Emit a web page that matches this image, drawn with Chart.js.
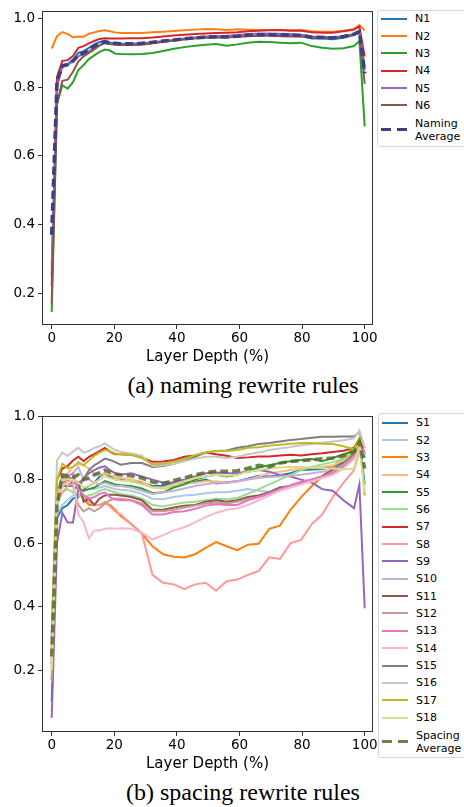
<!DOCTYPE html>
<html>
<head>
<meta charset="utf-8">
<script src="https://cdn.jsdelivr.net/npm/chart.js@4.4.1/dist/chart.umd.min.js"></script>
<style>
  html, body { margin: 0; padding: 0; background: #fff; }
  body { width: 464px; height: 807px; position: relative; overflow: hidden; font-family: "DejaVu Sans", sans-serif; }
  canvas { position: absolute; left: 0; }
  .legend { position: absolute; width: 100px; border: 1px solid #d6d6d6; border-radius: 3px; background: #fff;
            display: flex; flex-direction: column; gap: 5.35px; font-size: 11px; box-sizing: border-box; }
  .row { display: flex; align-items: center; height: 12px; }
  .row.two { height: 26px; }
  .swatch { width: 26px; height: 2px; margin-left: 3px; margin-right: 8px; flex: none; }
  .swatch.dash { height: 3px; }
  .label { white-space: pre-line; line-height: 13px; color: #000; }
  .caption { position: absolute; left: 0; width: 486px; text-align: center; font-family: "Liberation Serif", serif;
             font-size: 24px; line-height: 24px; color: #000; }
</style>
</head>
<body>
<canvas id="naming" width="464" height="370" style="top:0"></canvas>
<div class="legend" id="namingLegend" style="left:377px; top:10px; height:137px; padding-top:1.7px"></div>
<div class="caption" style="top:373px">(a) naming rewrite rules</div>

<canvas id="spacing" width="464" height="372" style="top:405px"></canvas>
<div class="legend" id="spacingLegend" style="left:378px; top:413px; height:345px; padding-top:2.7px"></div>
<div class="caption" style="top:780px">(b) spacing rewrite rules</div>

<script>
// layer depth in percent, shared by every series
const LAYER_DEPTH = [0, 1.7, 3.4, 5.1, 6.8, 8.5, 10.2, 11.9, 13.6, 15.3, 17, 18.6, 20.3, 22, 25.4, 28.8, 32.2, 35.6, 39,
  42.4, 45.8, 49.2, 52.5, 55.9, 59.3, 62.7, 66.1, 69.5, 72.9, 76.3, 79.7, 83.1, 86.4, 89.8, 93.2, 96.6, 98.3, 100];

const X_TICKS = [0, 20, 40, 60, 80, 100];
const Y_TICKS = [0.2, 0.4, 0.6, 0.8, 1.0];

// (a) naming rewrite rules
const N1 = [0.25, 0.82, 0.865, 0.868, 0.88, 0.9, 0.905, 0.915, 0.925, 0.932, 0.935, 0.93, 0.928, 0.927, 0.927, 0.928, 0.931, 0.934, 0.937, 0.94, 0.943, 0.946, 0.946, 0.946, 0.948, 0.95, 0.951, 0.952, 0.952, 0.951, 0.949, 0.942, 0.942, 0.94, 0.944, 0.952, 0.96, 0.85];
const N2 = [0.913, 0.949, 0.961, 0.955, 0.946, 0.948, 0.947, 0.956, 0.96, 0.964, 0.966, 0.963, 0.96, 0.958, 0.958, 0.958, 0.96, 0.962, 0.964, 0.966, 0.968, 0.97, 0.969, 0.967, 0.969, 0.968, 0.967, 0.967, 0.967, 0.966, 0.967, 0.963, 0.962, 0.962, 0.965, 0.97, 0.981, 0.965];
const N3 = [0.145, 0.752, 0.806, 0.796, 0.815, 0.85, 0.865, 0.882, 0.893, 0.903, 0.91, 0.907, 0.898, 0.897, 0.896, 0.897, 0.9, 0.906, 0.912, 0.917, 0.921, 0.924, 0.926, 0.921, 0.925, 0.93, 0.933, 0.932, 0.93, 0.928, 0.93, 0.92, 0.915, 0.912, 0.914, 0.92, 0.935, 0.686];
const N4 = [0.22, 0.83, 0.877, 0.879, 0.891, 0.915, 0.92, 0.928, 0.935, 0.941, 0.943, 0.942, 0.942, 0.942, 0.943, 0.943, 0.945, 0.948, 0.951, 0.953, 0.955, 0.957, 0.958, 0.959, 0.96, 0.963, 0.965, 0.966, 0.967, 0.965, 0.965, 0.96, 0.959, 0.959, 0.963, 0.968, 0.977, 0.89];
const N5 = [0.28, 0.8, 0.86, 0.865, 0.875, 0.89, 0.897, 0.905, 0.915, 0.922, 0.928, 0.926, 0.925, 0.924, 0.924, 0.926, 0.93, 0.934, 0.938, 0.942, 0.945, 0.948, 0.949, 0.95, 0.952, 0.955, 0.957, 0.957, 0.956, 0.955, 0.953, 0.948, 0.947, 0.946, 0.949, 0.955, 0.965, 0.86];
const N6 = [0.17, 0.75, 0.819, 0.822, 0.845, 0.875, 0.89, 0.9, 0.91, 0.922, 0.93, 0.926, 0.924, 0.923, 0.923, 0.924, 0.928, 0.932, 0.936, 0.94, 0.943, 0.944, 0.945, 0.945, 0.947, 0.949, 0.95, 0.95, 0.949, 0.948, 0.948, 0.945, 0.945, 0.944, 0.947, 0.953, 0.96, 0.81];
const NAMING_AVG = [0.37, 0.82, 0.862, 0.866, 0.877, 0.893, 0.9, 0.91, 0.92, 0.928, 0.933, 0.929, 0.928, 0.927, 0.927, 0.928, 0.931, 0.935, 0.938, 0.941, 0.944, 0.946, 0.947, 0.947, 0.949, 0.952, 0.953, 0.953, 0.953, 0.952, 0.951, 0.946, 0.945, 0.944, 0.948, 0.955, 0.962, 0.84];

const NAMING_LABELS = ['N1', 'N2', 'N3', 'N4', 'N5', 'N6', 'Naming\nAverage'];
const NAMING_COLORS = ['#1f77b4', '#ff7f0e', '#2ca02c', '#d62728', '#9467bd', '#8c564b', '#3b3f85'];

// (b) spacing rewrite rules
const S1 = [0.10, 0.68, 0.71, 0.72, 0.74, 0.745, 0.77, 0.78, 0.79, 0.81, 0.82, 0.81, 0.80, 0.80, 0.795, 0.79, 0.78, 0.78, 0.79, 0.79, 0.793, 0.80, 0.788, 0.792, 0.795, 0.803, 0.812, 0.81, 0.814, 0.82, 0.83, 0.832, 0.833, 0.84, 0.855, 0.88, 0.925, 0.785];
const S2 = [0.20, 0.69, 0.72, 0.735, 0.75, 0.75, 0.765, 0.77, 0.77, 0.775, 0.78, 0.775, 0.77, 0.768, 0.765, 0.755, 0.74, 0.738, 0.745, 0.75, 0.752, 0.757, 0.76, 0.76, 0.765, 0.77, 0.765, 0.762, 0.775, 0.78, 0.79, 0.80, 0.81, 0.83, 0.845, 0.87, 0.91, 0.87];
const S3 = [0.22, 0.76, 0.79, 0.80, 0.80, 0.78, 0.74, 0.72, 0.72, 0.72, 0.725, 0.72, 0.705, 0.685, 0.66, 0.63, 0.59, 0.565, 0.557, 0.555, 0.565, 0.585, 0.603, 0.59, 0.578, 0.595, 0.598, 0.645, 0.655, 0.705, 0.745, 0.78, 0.81, 0.84, 0.87, 0.90, 0.93, 0.88];
const S4 = [0.25, 0.75, 0.80, 0.82, 0.84, 0.85, 0.845, 0.835, 0.82, 0.815, 0.82, 0.815, 0.81, 0.805, 0.80, 0.793, 0.775, 0.772, 0.78, 0.787, 0.79, 0.795, 0.795, 0.79, 0.793, 0.80, 0.81, 0.82, 0.825, 0.83, 0.835, 0.838, 0.84, 0.845, 0.86, 0.885, 0.92, 0.90];
const S5 = [0.22, 0.74, 0.78, 0.78, 0.78, 0.77, 0.765, 0.77, 0.775, 0.785, 0.795, 0.79, 0.785, 0.782, 0.78, 0.772, 0.757, 0.76, 0.775, 0.785, 0.80, 0.81, 0.815, 0.81, 0.815, 0.828, 0.838, 0.845, 0.852, 0.858, 0.862, 0.865, 0.858, 0.868, 0.88, 0.89, 0.92, 0.87];
const S6 = [0.16, 0.72, 0.76, 0.77, 0.76, 0.75, 0.745, 0.75, 0.755, 0.765, 0.77, 0.765, 0.76, 0.755, 0.75, 0.74, 0.72, 0.715, 0.722, 0.728, 0.73, 0.735, 0.74, 0.738, 0.742, 0.755, 0.77, 0.785, 0.80, 0.815, 0.83, 0.84, 0.848, 0.855, 0.865, 0.885, 0.92, 0.88];
const S7 = [0.27, 0.80, 0.835, 0.843, 0.86, 0.872, 0.858, 0.872, 0.88, 0.89, 0.90, 0.888, 0.88, 0.88, 0.878, 0.87, 0.856, 0.857, 0.862, 0.872, 0.876, 0.885, 0.88, 0.875, 0.868, 0.87, 0.873, 0.873, 0.876, 0.878, 0.876, 0.88, 0.883, 0.887, 0.891, 0.90, 0.925, 0.88];
const S8 = [0.17, 0.74, 0.76, 0.78, 0.79, 0.78, 0.75, 0.73, 0.72, 0.72, 0.73, 0.715, 0.70, 0.69, 0.66, 0.63, 0.50, 0.475, 0.47, 0.455, 0.47, 0.475, 0.45, 0.48, 0.485, 0.50, 0.512, 0.555, 0.55, 0.60, 0.61, 0.66, 0.69, 0.745, 0.79, 0.83, 0.89, 0.88];
const S9 = [0.05, 0.60, 0.695, 0.665, 0.665, 0.77, 0.805, 0.82, 0.83, 0.838, 0.842, 0.83, 0.82, 0.815, 0.82, 0.81, 0.80, 0.79, 0.792, 0.80, 0.81, 0.82, 0.822, 0.82, 0.82, 0.825, 0.83, 0.825, 0.815, 0.81, 0.80, 0.79, 0.77, 0.765, 0.735, 0.71, 0.785, 0.395];
const S10 = [0.20, 0.72, 0.80, 0.81, 0.82, 0.84, 0.80, 0.80, 0.79, 0.785, 0.79, 0.785, 0.78, 0.78, 0.775, 0.765, 0.755, 0.76, 0.765, 0.772, 0.78, 0.785, 0.79, 0.79, 0.795, 0.80, 0.805, 0.808, 0.81, 0.812, 0.815, 0.82, 0.825, 0.83, 0.84, 0.87, 0.90, 0.89];
const S11 = [0.25, 0.75, 0.81, 0.80, 0.79, 0.79, 0.73, 0.74, 0.72, 0.74, 0.75, 0.752, 0.752, 0.75, 0.745, 0.735, 0.705, 0.705, 0.712, 0.718, 0.72, 0.73, 0.735, 0.73, 0.735, 0.745, 0.75, 0.76, 0.775, 0.78, 0.79, 0.80, 0.81, 0.83, 0.85, 0.88, 0.905, 0.88];
const S12 = [0.17, 0.73, 0.79, 0.79, 0.78, 0.72, 0.70, 0.71, 0.70, 0.71, 0.725, 0.735, 0.74, 0.74, 0.735, 0.725, 0.70, 0.70, 0.705, 0.712, 0.718, 0.725, 0.728, 0.725, 0.73, 0.74, 0.745, 0.755, 0.77, 0.778, 0.788, 0.798, 0.808, 0.825, 0.848, 0.875, 0.90, 0.88];
const S13 = [0.22, 0.74, 0.80, 0.81, 0.82, 0.77, 0.75, 0.74, 0.745, 0.755, 0.76, 0.745, 0.737, 0.735, 0.735, 0.72, 0.69, 0.69, 0.698, 0.70, 0.708, 0.718, 0.722, 0.72, 0.72, 0.735, 0.745, 0.757, 0.77, 0.782, 0.793, 0.80, 0.808, 0.82, 0.84, 0.87, 0.90, 0.89];
const S14 = [0.21, 0.74, 0.78, 0.79, 0.80, 0.69, 0.665, 0.615, 0.64, 0.64, 0.645, 0.647, 0.645, 0.647, 0.645, 0.633, 0.612, 0.625, 0.64, 0.65, 0.665, 0.682, 0.695, 0.705, 0.71, 0.72, 0.735, 0.75, 0.765, 0.775, 0.785, 0.795, 0.805, 0.815, 0.835, 0.865, 0.89, 0.88];
const S15 = [0.30, 0.75, 0.80, 0.81, 0.80, 0.79, 0.80, 0.83, 0.845, 0.855, 0.866, 0.862, 0.855, 0.847, 0.852, 0.852, 0.84, 0.843, 0.85, 0.86, 0.872, 0.885, 0.89, 0.892, 0.90, 0.905, 0.912, 0.915, 0.92, 0.925, 0.928, 0.932, 0.935, 0.935, 0.936, 0.936, 0.95, 0.90];
const S16 = [0.32, 0.86, 0.885, 0.875, 0.888, 0.90, 0.885, 0.89, 0.90, 0.905, 0.915, 0.903, 0.893, 0.888, 0.882, 0.875, 0.843, 0.845, 0.85, 0.858, 0.866, 0.872, 0.872, 0.868, 0.872, 0.88, 0.885, 0.893, 0.898, 0.903, 0.908, 0.912, 0.916, 0.92, 0.924, 0.93, 0.955, 0.90];
const S17 = [0.30, 0.80, 0.85, 0.835, 0.84, 0.855, 0.845, 0.86, 0.875, 0.885, 0.893, 0.89, 0.882, 0.88, 0.878, 0.868, 0.848, 0.85, 0.857, 0.865, 0.877, 0.885, 0.89, 0.89, 0.893, 0.90, 0.902, 0.907, 0.91, 0.913, 0.915, 0.915, 0.913, 0.912, 0.905, 0.895, 0.93, 0.75];
const S18 = [0.20, 0.75, 0.80, 0.80, 0.80, 0.79, 0.775, 0.78, 0.79, 0.80, 0.81, 0.805, 0.80, 0.797, 0.795, 0.785, 0.775, 0.775, 0.785, 0.795, 0.805, 0.81, 0.815, 0.812, 0.815, 0.825, 0.83, 0.835, 0.838, 0.84, 0.84, 0.838, 0.836, 0.835, 0.832, 0.835, 0.91, 0.76];
const SPACING_AVG = [0.243, 0.72, 0.815, 0.812, 0.808, 0.815, 0.80, 0.805, 0.815, 0.822, 0.83, 0.823, 0.818, 0.815, 0.812, 0.805, 0.792, 0.788, 0.797, 0.806, 0.815, 0.822, 0.826, 0.826, 0.828, 0.836, 0.845, 0.84, 0.852, 0.857, 0.86, 0.862, 0.866, 0.868, 0.875, 0.888, 0.918, 0.835];

const SPACING_LABELS = ['S1', 'S2', 'S3', 'S4', 'S5', 'S6', 'S7', 'S8', 'S9', 'S10', 'S11', 'S12', 'S13', 'S14', 'S15', 'S16', 'S17', 'S18', 'Spacing\nAverage'];
const SPACING_COLORS = ['#1f77b4', '#aec7e8', '#ff7f0e', '#ffbb78', '#2ca02c', '#98df8a', '#d62728', '#ff9896', '#9467bd',
  '#c5b0d5', '#8c564b', '#c49c94', '#e377c2', '#f7b6d2', '#7f7f7f', '#c7c7c7', '#bcbd22', '#dbdb8d', 'rgba(85,107,47,0.85)'];

Chart.defaults.font.family = '"DejaVu Sans", sans-serif';
Chart.defaults.font.size = 13.5;
Chart.defaults.color = '#000';

const frame = {
  id: 'frame',
  afterDraw(chart) {
    const { ctx, chartArea: a } = chart;
    ctx.save();
    ctx.strokeStyle = '#333';
    ctx.lineWidth = 1;
    ctx.strokeRect(Math.round(a.left) + 0.5, Math.round(a.top) + 0.5, Math.round(a.right - a.left) - 1, Math.round(a.bottom - a.top) - 1);
    ctx.restore();
  }
};

function makeChart(id, legendId, series, labels, colors, yMin, yMax, padTop) {
  const last = series.length - 1;
  const datasets = series.map((vals, i) => ({
    label: labels[i],
    data: vals.map((v, j) => ({ x: LAYER_DEPTH[j], y: v })),
    borderColor: colors[i],
    borderWidth: i === last ? 3.5 : 2,
    borderDash: i === last ? [8, 4] : [],
    pointRadius: 0,
    tension: 0,
    fill: false,
    order: series.length - i
  }));

  const chart = new Chart(document.getElementById(id), {
    type: 'line',
    data: { datasets },
    options: {
      responsive: false,
      animation: false,
      devicePixelRatio: 1,
      layout: { padding: { top: padTop, right: 91, left: 0, bottom: 0 } },
      plugins: { legend: { display: false }, tooltip: { enabled: false } },
      scales: {
        x: {
          type: 'linear', min: -3.1, max: 102.65,
          afterBuildTicks: s => { s.ticks = X_TICKS.map(v => ({ value: v })); },
          afterFit: s => { s.height = 45; },
          ticks: { padding: 1, callback: v => String(v) },
          grid: { drawOnChartArea: false, drawTicks: true, tickLength: 4, color: '#333' },
          border: { display: false },
          title: { display: true, text: 'Layer Depth (%)', font: { size: 15 }, padding: { top: 0, bottom: 4 } }
        },
        y: {
          min: yMin, max: yMax,
          afterBuildTicks: s => { s.ticks = Y_TICKS.map(v => ({ value: v })); },
          afterFit: s => { s.width = 42; },
          ticks: { padding: 3, callback: v => v.toFixed(1) },
          grid: { drawOnChartArea: false, drawTicks: true, tickLength: 4, color: '#333' },
          border: { display: false }
        }
      }
    },
    plugins: [frame]
  });

  // legend box in the matplotlib style, built from the chart's datasets
  const box = document.getElementById(legendId);
  chart.data.datasets.forEach((ds, i) => {
    const row = document.createElement('div');
    row.className = 'row' + (ds.label.includes('\n') ? ' two' : '');
    const sw = document.createElement('div');
    sw.className = 'swatch' + (i === last ? ' dash' : '');
    sw.style.background = i === last
      ? `linear-gradient(to right, ${ds.borderColor} 0 10px, transparent 10px 16px, ${ds.borderColor} 16px 26px)`
      : ds.borderColor;
    const lab = document.createElement('div');
    lab.className = 'label';
    lab.textContent = ds.label;
    row.appendChild(sw);
    row.appendChild(lab);
    box.appendChild(row);
  });
  return chart;
}

makeChart('naming', 'namingLegend', [N1, N2, N3, N4, N5, N6, NAMING_AVG],
  NAMING_LABELS, NAMING_COLORS, 0.107, 1.022, 4);
makeChart('spacing', 'spacingLegend',
  [S1, S2, S3, S4, S5, S6, S7, S8, S9, S10, S11, S12, S13, S14, S15, S16, S17, S18, SPACING_AVG],
  SPACING_LABELS, SPACING_COLORS, 0.005, 1.0, 9.3);
</script>
</body>
</html>
